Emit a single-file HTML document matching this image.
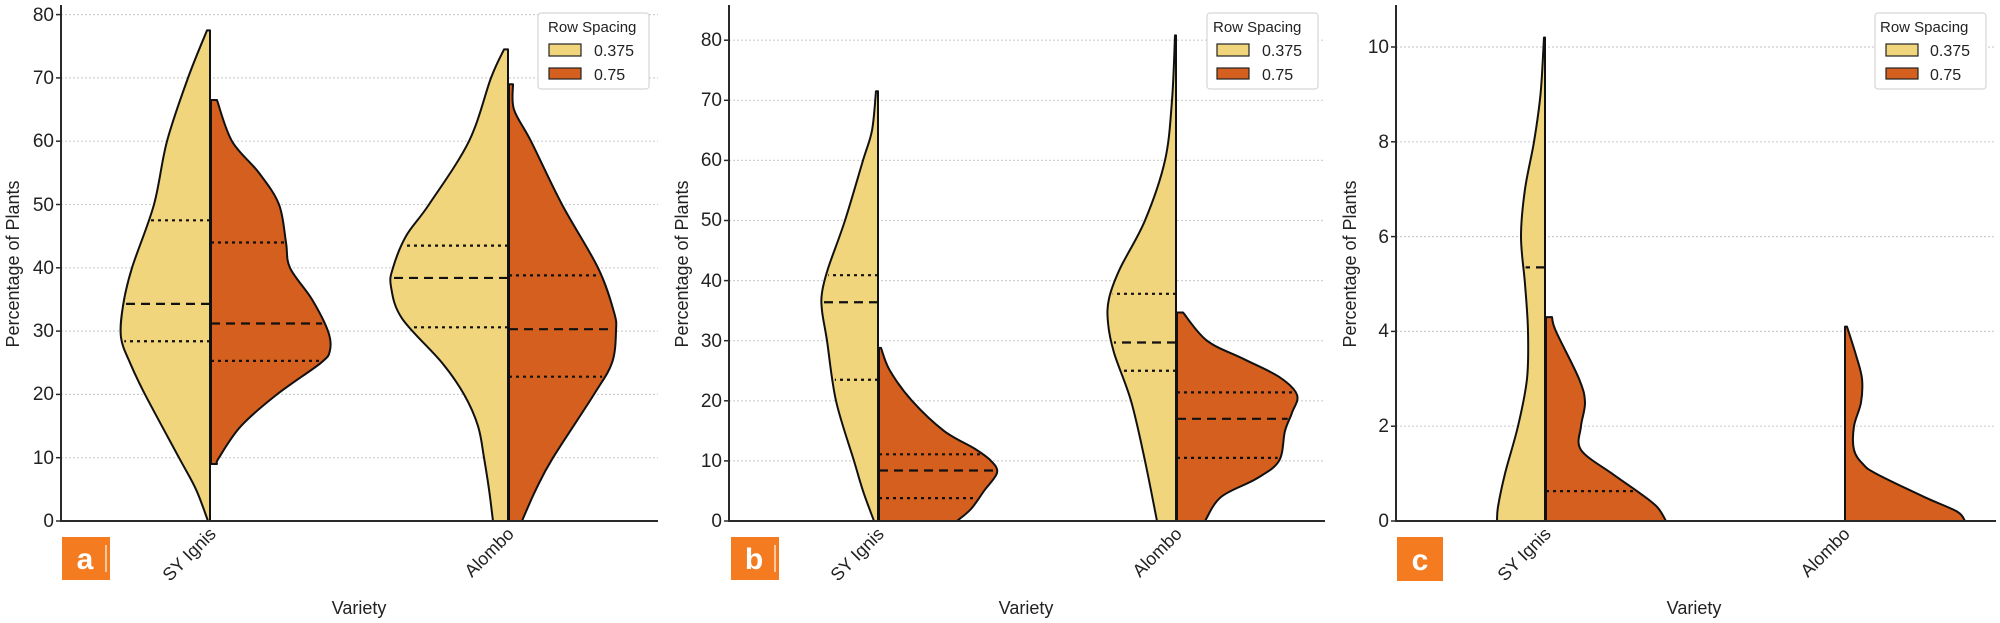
<!DOCTYPE html>
<html><head><meta charset="utf-8"><style>
html,body{margin:0;padding:0;background:#fff;width:2000px;height:623px;overflow:hidden}
svg{display:block;font-family:"Liberation Sans","DejaVu Sans",sans-serif}
</style></head><body>
<svg id="s" width="2000" height="623" viewBox="0 0 2000 623" xmlns="http://www.w3.org/2000/svg">
<g id="grid"></g>
<g id="violins"></g>
<g id="axes" stroke="#2a2a2a" stroke-width="2" fill="none">
<path d="M61,5 V521 H658"/>
<path d="M729,5 V521 H1325"/>
<path d="M1396,5 V521 H1996"/>
</g>
<g id="ticks" stroke="#2a2a2a" stroke-width="1.5"></g>
<g font-size="19" fill="#222" text-anchor="end">
<text x="54" y="527">0</text><text x="54" y="464">10</text><text x="54" y="400">20</text><text x="54" y="337">30</text><text x="54" y="274">40</text><text x="54" y="211">50</text><text x="54" y="147">60</text><text x="54" y="84">70</text><text x="54" y="21">80</text>
<text x="722" y="527">0</text><text x="722" y="467">10</text><text x="722" y="407">20</text><text x="722" y="347">30</text><text x="722" y="287">40</text><text x="722" y="226">50</text><text x="722" y="166">60</text><text x="722" y="106">70</text><text x="722" y="46">80</text>
<text x="1389" y="527">0</text><text x="1389" y="432">2</text><text x="1389" y="337">4</text><text x="1389" y="243">6</text><text x="1389" y="148">8</text><text x="1389" y="53">10</text>
</g>
<g font-size="18" fill="#222" text-anchor="middle">
<text transform="translate(19,264) rotate(-90)">Percentage of Plants</text>
<text transform="translate(688,264) rotate(-90)">Percentage of Plants</text>
<text transform="translate(1356,264) rotate(-90)">Percentage of Plants</text>
<text x="359" y="614">Variety</text>
<text x="1026" y="614">Variety</text>
<text x="1694" y="614">Variety</text>
</g>
<g font-size="18" fill="#222" text-anchor="end">
<text transform="translate(217,535) rotate(-45)">SY Ignis</text>
<text transform="translate(515,535) rotate(-45)">Alombo</text>
<text transform="translate(885,535) rotate(-45)">SY Ignis</text>
<text transform="translate(1183,535) rotate(-45)">Alombo</text>
<text transform="translate(1552,535) rotate(-45)">SY Ignis</text>
<text transform="translate(1851,535) rotate(-45)">Alombo</text>
</g>
<g id="legends"></g>
<g>
<rect x="62" y="537" width="48" height="43" fill="#f47b20"/>
<rect x="731" y="537" width="48" height="43" fill="#f47b20"/>
<rect x="1397" y="537" width="46" height="44" fill="#f47b20"/>
<line x1="106" y1="545" x2="106" y2="572" stroke="#fde2c8" stroke-width="1.5"/>
<line x1="775" y1="545" x2="775" y2="572" stroke="#fde2c8" stroke-width="1.5"/>
<g fill="#fff" font-weight="bold" font-size="30" text-anchor="middle">
<text x="85" y="569">a</text><text x="754" y="569">b</text><text x="1420" y="570">c</text>
</g>
</g>
<g font-size="15" fill="#222">
<rect x="538" y="13" width="111" height="76" rx="3" fill="#fff" stroke="#d6d6d6" stroke-width="1.2"/>
<text x="548" y="32">Row Spacing</text>
<rect x="549" y="44" width="32" height="12" fill="#F1D57D" stroke="#222" stroke-width="1.2"/>
<rect x="549" y="68" width="32" height="11" fill="#D45F1E" stroke="#222" stroke-width="1.2"/>
<text x="594" y="56" font-size="16">0.375</text><text x="594" y="80" font-size="16">0.75</text>
<rect x="1207" y="13" width="111" height="76" rx="3" fill="#fff" stroke="#d6d6d6" stroke-width="1.2"/>
<text x="1213" y="32">Row Spacing</text>
<rect x="1217" y="44" width="32" height="12" fill="#F1D57D" stroke="#222" stroke-width="1.2"/>
<rect x="1217" y="68" width="32" height="11" fill="#D45F1E" stroke="#222" stroke-width="1.2"/>
<text x="1262" y="56" font-size="16">0.375</text><text x="1262" y="80" font-size="16">0.75</text>
<rect x="1875" y="13" width="111" height="76" rx="3" fill="#fff" stroke="#d6d6d6" stroke-width="1.2"/>
<text x="1880" y="32">Row Spacing</text>
<rect x="1886" y="44" width="32" height="12" fill="#F1D57D" stroke="#222" stroke-width="1.2"/>
<rect x="1886" y="68" width="32" height="11" fill="#D45F1E" stroke="#222" stroke-width="1.2"/>
<text x="1930" y="56" font-size="16">0.375</text><text x="1930" y="80" font-size="16">0.75</text>
</g>
</svg>
<script>
(function(){
var NS="http://www.w3.org/2000/svg";
function el(p,t,a){var e=document.createElementNS(NS,t);for(var k in a)e.setAttribute(k,a[k]);p.appendChild(e);return e;}
var grid=document.getElementById('grid'),vg=document.getElementById('violins'),tk=document.getElementById('ticks');
var panels=[
 {x0:61,x1:658,y0:521,ppu:6.33,ticks:[0,10,20,30,40,50,60,70,80]},
 {x0:729,x1:1325,y0:521,ppu:6.01,ticks:[0,10,20,30,40,50,60,70,80]},
 {x0:1396,x1:1996,y0:521,ppu:47.4,ticks:[0,2,4,6,8,10]}
];
panels.forEach(function(p){p.ticks.forEach(function(t){var y=p.y0-t*p.ppu;
 if(t>0)el(grid,'line',{x1:p.x0,x2:p.x1,y1:y,y2:y,stroke:'#cfcfcf','stroke-width':1.2,'stroke-dasharray':'2,2'});
 el(tk,'line',{x1:p.x0-5,x2:p.x0,y1:y,y2:y});});});
var Y='#F1D57D',O='#D45F1E';
function violin(p,cx,side,pts,col,q){
 var yf=function(v){return p.y0-v*p.ppu;};
 var P=pts.map(function(a){return [cx+side*a[1],yf(a[0])];});
 var d='M'+cx+','+P[0][1]+' L'+P[0][0]+','+P[0][1];
 for(var i=0;i<P.length-1;i++){var p0=P[Math.max(i-1,0)],p1=P[i],p2=P[i+1],p3=P[Math.min(i+2,P.length-1)];
  var c1=[p1[0]+(p2[0]-p0[0])/6,p1[1]+(p2[1]-p0[1])/6],c2=[p2[0]-(p3[0]-p1[0])/6,p2[1]-(p3[1]-p1[1])/6];
  d+=' C'+c1[0].toFixed(1)+','+c1[1].toFixed(1)+' '+c2[0].toFixed(1)+','+c2[1].toFixed(1)+' '+p2[0].toFixed(1)+','+p2[1].toFixed(1);}
 d+=' L'+cx+','+P[P.length-1][1]+' Z';
 el(vg,'path',{d:d,fill:col,stroke:'#111','stroke-width':2,'stroke-linejoin':'round'});
 (q||[]).forEach(function(qq){var v=qq[0],w=0;
  for(var i=0;i<pts.length-1;i++){var a=pts[i],b=pts[i+1];if(v<=a[0]&&v>=b[0]){w=a[1]+(b[1]-a[1])*(a[0]-v)/(a[0]-b[0]);break;}}
  var y=yf(v);el(vg,'line',{x1:cx,x2:cx+side*(w-2),y1:y,y2:y,stroke:'#111','stroke-width':2.2,'stroke-dasharray':qq[1]?'9,6':'3,4'});});
 el(vg,'line',{x1:cx,x2:cx,y1:P[0][1],y2:P[P.length-1][1],stroke:'#111','stroke-width':2});
}
var a=panels[0],b=panels[1],c=panels[2];
violin(a,210,-1,[[77.5,3],[70,22],[60,43],[50,56],[40,78],[34,87],[29,89],[25,80],[20,65],[10,31],[5,14],[0,2]],Y,[[47.5],[34.3,1],[28.4]]);
violin(a,211,1,[[66.5,6],[60,21],[55,48],[50,68],[44,75],[40,79],[35,101],[30,117],[27,119],[25,110],[20,66],[15,30],[10,8],[9,6]],O,[[44],[31.2,1],[25.3]]);
violin(a,508,-1,[[74.5,4],[70,17],[60,39],[50,79],[45,102],[40,115],[37,117],[32,106],[25,66],[20,44],[15,30],[10,24],[5,19],[0,15]],Y,[[43.5],[38.4,1],[30.6]]);
violin(a,509,1,[[69,4],[65,5],[60,22],[50,53],[40,89],[33,105],[30,107],[25,103],[20,85],[10,44],[5,27],[0,13]],O,[[38.8],[30.3,1],[22.8]]);
violin(b,878,-1,[[71.5,2],[65,6],[60,15],[50,33],[42,50],[38,56],[35,56],[30,51],[20,42],[10,24],[5,15],[0,4]],Y,[[40.9],[36.4,1],[23.5]]);
violin(b,879,1,[[28.8,2],[25,11],[20,33],[15,65],[12,96],[10,112],[8,118],[5,105],[2,92],[0,78]],O,[[11.1],[8.4,1],[3.8]]);
violin(b,1176,-1,[[80.8,1],[70,4],[60,11],[50,31],[42,56],[37,67],[33,68],[28,62],[20,45],[10,31],[0,19]],Y,[[37.8],[29.7,1],[25]]);
violin(b,1177,1,[[34.7,6],[30,30],[27,66],[24,102],[21,120],[18,115],[15,108],[10,102],[7,79],[4,44],[0,28]],O,[[21.4],[17,1],[10.5]]);
violin(c,1545,-1,[[10.2,1],[9,4.5],[8,11],[7,20],[6,24],[5,20],[4,17],[3,18],[2,27],[1,40],[0.3,47],[0,48]],Y,[[5.35,1]]);
violin(c,1546,1,[[4.3,6],[4,10],[3,33],[2.5,39],[2,35],[1.5,35],[1,66],[0.6,93],[0.3,111],[0,120]],O,[[0.63]]);
violin(c,1845,1,[[4.1,2],[3.5,11],[3,17],[2.5,16],[2,9],[1.5,9],[1.2,18],[1,31],[0.5,80],[0.2,112],[0,120]],O,[]);
})();
</script>
</body></html>
